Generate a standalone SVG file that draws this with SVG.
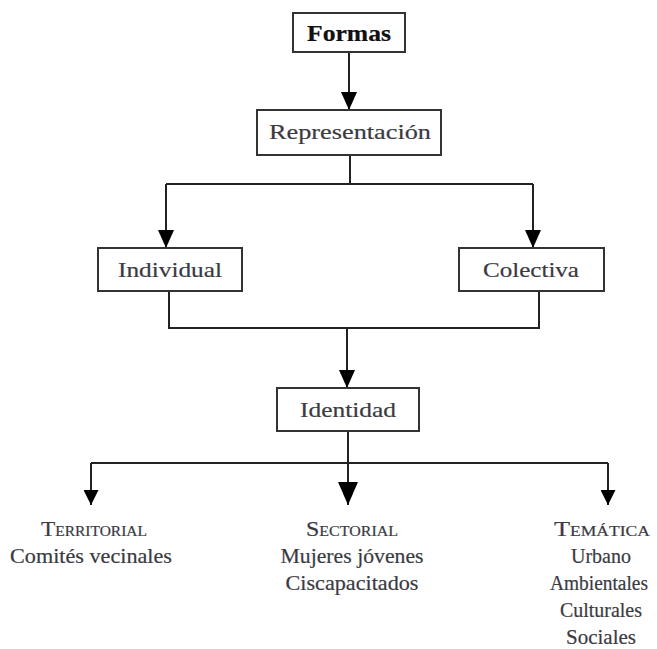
<svg xmlns="http://www.w3.org/2000/svg" width="657" height="649" viewBox="0 0 657 649">
<defs>
<style>
.box{fill:#fff;stroke:#333;stroke-width:2}
.lbl{font-family:"Liberation Serif","Times New Roman",serif;fill:#3a3a42;stroke:#3a3a42;stroke-width:0.2;text-anchor:middle}
.n{font-size:22px}
.b{font-size:21px}
.sc{font-size:14px}
.ln{fill:none;stroke:#222;stroke-width:2}
</style>
<marker id="ah" viewBox="0 0 10 10" refX="10" refY="5" markerWidth="18" markerHeight="16" markerUnits="userSpaceOnUse" orient="auto" preserveAspectRatio="none">
<path d="M0,0 L10,5 L0,10 Z" fill="#000"/>
</marker>
<marker id="ahL" viewBox="0 0 10 10" refX="10" refY="5" markerWidth="23" markerHeight="20" markerUnits="userSpaceOnUse" orient="auto" preserveAspectRatio="none">
<path d="M0,0 L10,5 L0,10 Z" fill="#000"/>
</marker>
<marker id="ahS" viewBox="0 0 10 10" refX="10" refY="5" markerWidth="15" markerHeight="15" markerUnits="userSpaceOnUse" orient="auto" preserveAspectRatio="none">
<path d="M0,0 L10,5 L0,10 Z" fill="#000"/>
</marker>
</defs>
<rect width="657" height="649" fill="#fff"/>
<g id="connectors">
<path class="ln" d="M349,52 V110" marker-end="url(#ah)"/>
<path class="ln" d="M350,155 V184 M166,184 H533"/>
<path class="ln" d="M166,184 V248" marker-end="url(#ah)"/>
<path class="ln" d="M533,184 V248" marker-end="url(#ah)"/>
<path class="ln" d="M169,291 V328 H539 V291"/>
<path class="ln" d="M347,328 V388" marker-end="url(#ah)"/>
<path class="ln" d="M348,431 V463 M91,463 H608"/>
<path class="ln" d="M91,463 V505" marker-end="url(#ahS)"/>
<path class="ln" d="M348,463 V505" marker-end="url(#ahL)"/>
<path class="ln" d="M608,463 V505" marker-end="url(#ahS)"/>
</g>
<g id="formas">
<rect class="box" x="293" y="13" width="112" height="39"/>
<text class="lbl" x="349" y="41" style="font-size:24px;font-weight:bold;fill:#111;stroke:#111" textLength="84" lengthAdjust="spacingAndGlyphs">Formas</text>
</g>
<g id="representacion">
<rect class="box" x="257" y="110" width="184" height="45"/>
<text class="lbl n" x="350" y="139" textLength="162" lengthAdjust="spacingAndGlyphs">Representación</text>
</g>
<g id="individual">
<rect class="box" x="98" y="248" width="144" height="43"/>
<text class="lbl n" x="170" y="277" textLength="104" lengthAdjust="spacingAndGlyphs">Individual</text>
</g>
<g id="colectiva">
<rect class="box" x="459" y="248" width="145" height="43"/>
<text class="lbl n" x="531" y="277" textLength="96" lengthAdjust="spacingAndGlyphs">Colectiva</text>
</g>
<g id="identidad">
<rect class="box" x="277" y="388" width="142" height="43"/>
<text class="lbl n" x="348" y="417" textLength="96" lengthAdjust="spacingAndGlyphs">Identidad</text>
</g>
<g id="territorial">
<text class="lbl b" x="94" y="536" textLength="106" lengthAdjust="spacingAndGlyphs"><tspan>T</tspan><tspan class="sc">ERRITORIAL</tspan></text>
<text class="lbl b" x="91" y="563" textLength="162" lengthAdjust="spacingAndGlyphs">Comités vecinales</text>
</g>
<g id="sectorial">
<text class="lbl b" x="352" y="536" textLength="92" lengthAdjust="spacingAndGlyphs"><tspan>S</tspan><tspan class="sc">ECTORIAL</tspan></text>
<text class="lbl b" x="352" y="563" textLength="143" lengthAdjust="spacingAndGlyphs">Mujeres jóvenes</text>
<text class="lbl b" x="352" y="590" textLength="133" lengthAdjust="spacingAndGlyphs">Ciscapacitados</text>
</g>
<g id="tematica">
<text class="lbl b" x="602" y="536" textLength="96" lengthAdjust="spacingAndGlyphs"><tspan>T</tspan><tspan class="sc">EMÁTICA</tspan></text>
<text class="lbl b" x="601" y="563" textLength="60" lengthAdjust="spacingAndGlyphs">Urbano</text>
<text class="lbl b" x="599" y="590" style="font-size:20px" textLength="98" lengthAdjust="spacingAndGlyphs">Ambientales</text>
<text class="lbl b" x="601" y="617" textLength="82" lengthAdjust="spacingAndGlyphs">Culturales</text>
<text class="lbl b" x="601" y="644" textLength="70" lengthAdjust="spacingAndGlyphs">Sociales</text>
</g>
</svg>
